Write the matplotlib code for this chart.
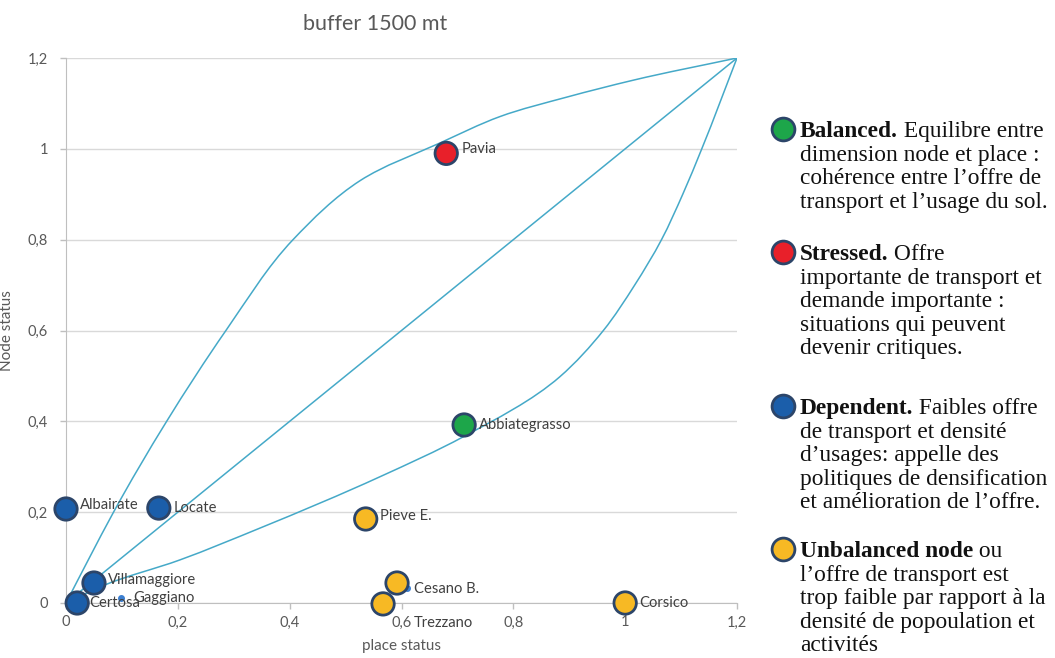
import matplotlib
matplotlib.use("Agg")
import matplotlib.pyplot as plt
from matplotlib.path import Path
from matplotlib.patches import PathPatch
from matplotlib.ticker import FuncFormatter

# stations: place status (x), node status (y), category
names = ["Pavia", "Abbiategrasso", "Albairate", "Locate", "Villamaggiore", "Certosa",
         "Pieve E.", "Cesano B.", "Trezzano", "Corsico"]
place = [0.68, 0.712, 0.0, 0.166, 0.05, 0.02, 0.536, 0.592, 0.567, 1.0]
node = [0.99, 0.392, 0.207, 0.209, 0.044, 0.0, 0.185, 0.044, -0.002, 0.0]
category = ["stressed", "balanced", "dependent", "dependent", "dependent", "dependent",
            "unbalanced", "unbalanced", "unbalanced", "unbalanced"]

# small dots
small_names = ["Gaggiano", ""]
small_place = [0.098, 0.61]
small_node = [0.011, 0.033]

# boundary curves of the node-place diagram
upper_x = [0.0, 0.042, 0.085, 0.180, 0.286, 0.406, 0.526, 0.669, 0.776, 0.896, 1.014, 1.2]
upper_y = [0.0, 0.10, 0.20, 0.40, 0.60, 0.80, 0.930, 1.013, 1.071, 1.114, 1.151, 1.2]
diag = [0.0, 1.2]
lower_x = [0.0, 0.066, 0.204, 0.347, 0.5615, 0.7105, 0.883, 0.961, 1.017, 1.065, 1.103, 1.137, 1.2]
lower_y = [0.0, 0.038, 0.095, 0.165, 0.278, 0.366, 0.498, 0.60, 0.70, 0.80, 0.90, 1.0, 1.2]

ticks = [0, 0.2, 0.4, 0.6, 0.8, 1.0, 1.2]

fills = {"balanced": "#1DA64A", "stressed": "#E8202A",
         "dependent": "#1B5EAA", "unbalanced": "#F7B924"}
edge = "#2C4569"
curve_col = "#45A9C8"
grey = "#595959"

# label offsets in points
offsets = {"Pavia": (11, 3), "Abbiategrasso": (11, 0), "Albairate": (10, 3),
           "Locate": (11, 0), "Villamaggiore": (10, 2), "Certosa": (9, 0),
           "Pieve E.": (10, 2), "Cesano B.": (12, -4), "Trezzano": (22, -14),
           "Corsico": (10, 0), "Gaggiano": (9, 0)}


def smooth_path(xs, ys):
    # smoothed line through the points (cubic bezier, chord-length parameter)
    pts = list(zip(xs, ys))
    n = len(pts)
    h = []
    for i in range(n - 1):
        dx = pts[i + 1][0] - pts[i][0]
        dy = pts[i + 1][1] - pts[i][1]
        h.append((dx * dx + dy * dy) ** 0.5)
    tang = []
    for i in range(n):
        if i == 0 or i == n - 1:
            j = 0 if i == 0 else n - 2
            d = ((pts[j + 1][0] - pts[j][0]) / h[j], (pts[j + 1][1] - pts[j][1]) / h[j])
        else:
            h0, h1 = h[i - 1], h[i]
            s0 = ((pts[i][0] - pts[i - 1][0]) / h0, (pts[i][1] - pts[i - 1][1]) / h0)
            s1 = ((pts[i + 1][0] - pts[i][0]) / h1, (pts[i + 1][1] - pts[i][1]) / h1)
            d = ((s0[0] * h1 + s1[0] * h0) / (h0 + h1), (s0[1] * h1 + s1[1] * h0) / (h0 + h1))
        tang.append(d)
    verts = [pts[0]]
    codes = [Path.MOVETO]
    for i in range(n - 1):
        k = h[i] / 3
        c1 = (pts[i][0] + tang[i][0] * k, pts[i][1] + tang[i][1] * k)
        c2 = (pts[i + 1][0] - tang[i + 1][0] * k, pts[i + 1][1] - tang[i + 1][1] * k)
        verts += [c1, c2, pts[i + 1]]
        codes += [Path.CURVE4] * 3
    return Path(verts, codes)


fig = plt.figure(figsize=(10.55, 6.58), dpi=100)
ax = fig.add_axes([66 / 1055, 55 / 658, 671 / 1055, 545 / 658])

for xs, ys in [(upper_x, upper_y), (diag, diag), (lower_x, lower_y)]:
    ax.add_patch(PathPatch(smooth_path(xs, ys), facecolor="none",
                           edgecolor=curve_col, lw=1.1, zorder=2))

ax.scatter(small_place, small_node, s=16, color="#3C7FD0", zorder=3, clip_on=False)
ax.scatter(place, node, s=260, c=[fills[c] for c in category],
           edgecolors=edge, linewidths=2.0, zorder=4, clip_on=False)

for n, x, y in zip(names + small_names, place + small_place, node + small_node):
    if not n:
        continue
    ax.annotate(n, (x, y), xytext=offsets[n], textcoords="offset points",
                fontsize=10.6, color="#404040", va="center", ha="left",
                family="Lato", zorder=5, annotation_clip=False)

ax.set_xlim(0, 1.2)
ax.set_ylim(0, 1.2)
ax.set_xticks(ticks)
ax.set_yticks(ticks)
fmt = FuncFormatter(lambda v, p: ("%g" % v).replace(".", ","))
ax.xaxis.set_major_formatter(fmt)
ax.yaxis.set_major_formatter(fmt)
ax.tick_params(colors="#BFBFBF", labelcolor=grey, labelsize=10.5, length=4, width=1)
ax.tick_params(axis="y", pad=9)
ax.tick_params(axis="x", pad=5)
for t in ax.get_xticklabels() + ax.get_yticklabels():
    t.set_family("Lato")
ax.grid(axis="y", color="#D9D9D9", lw=1)
ax.set_axisbelow(True)
for s in ["top", "right"]:
    ax.spines[s].set_visible(False)
for s in ["left", "bottom"]:
    ax.spines[s].set_color("#BFBFBF")
ax.set_xlabel("place status", fontsize=11, color=grey, family="Lato", labelpad=7)
ax.set_ylabel("Node status", fontsize=11, color=grey, family="Lato", labelpad=10)
ax.set_title("buffer 1500 mt", fontsize=15.5, color=grey, family="Lato", pad=20, x=0.46)
ax.patch.set_visible(False)

# explanatory legend on the right (pixel coordinates)
lg = fig.add_axes([0, 0, 1, 1], zorder=-1)
lg.set_xlim(0, 1055)
lg.set_ylim(658, 0)
lg.axis("off")

legend_cats = ["balanced", "stressed", "dependent", "unbalanced"]
legend_bold = ["Balanced.", "Stressed.", "Dependent.", "Unbalanced node"]
legend_rest = [" Equilibre entre", " Offre", " Faibles offre", " ou"]
legend_lines = [
    ["dimension node et place :", "cohérence entre l\u2019offre de", "transport et l\u2019usage du sol."],
    ["importante de transport et", "demande importante :", "situations qui peuvent", "devenir critiques."],
    ["de transport et densité", "d\u2019usages: appelle des", "politiques de densification",
     "et amélioration de l\u2019offre."],
    ["l\u2019offre de transport est", "trop faible par rapport à la", "densité de popoulation et",
     "activités"],
]
block_top = [131, 254, 408, 551]
step = 23.6
serif = "Liberation Serif"
for cat, b, r, lines, y0 in zip(legend_cats, legend_bold, legend_rest, legend_lines, block_top):
    lg.scatter([783], [y0 - 2], s=270, color=fills[cat], edgecolors=edge, linewidths=2.0)
    bt = lg.text(800, y0 + 6, b, fontsize=16.8, fontweight="bold", family=serif,
                 color="#111111", va="baseline", ha="left")
    lg.annotate(r, xy=(1, 0), xycoords=bt, fontsize=16.8, family=serif,
                color="#111111", va="bottom", ha="left")
    for i, line in enumerate(lines):
        lg.text(800, y0 + 6 + (i + 1) * step, line, fontsize=16.8, family=serif,
                color="#111111", va="baseline", ha="left")

fig.savefig("out.png", dpi=100)
